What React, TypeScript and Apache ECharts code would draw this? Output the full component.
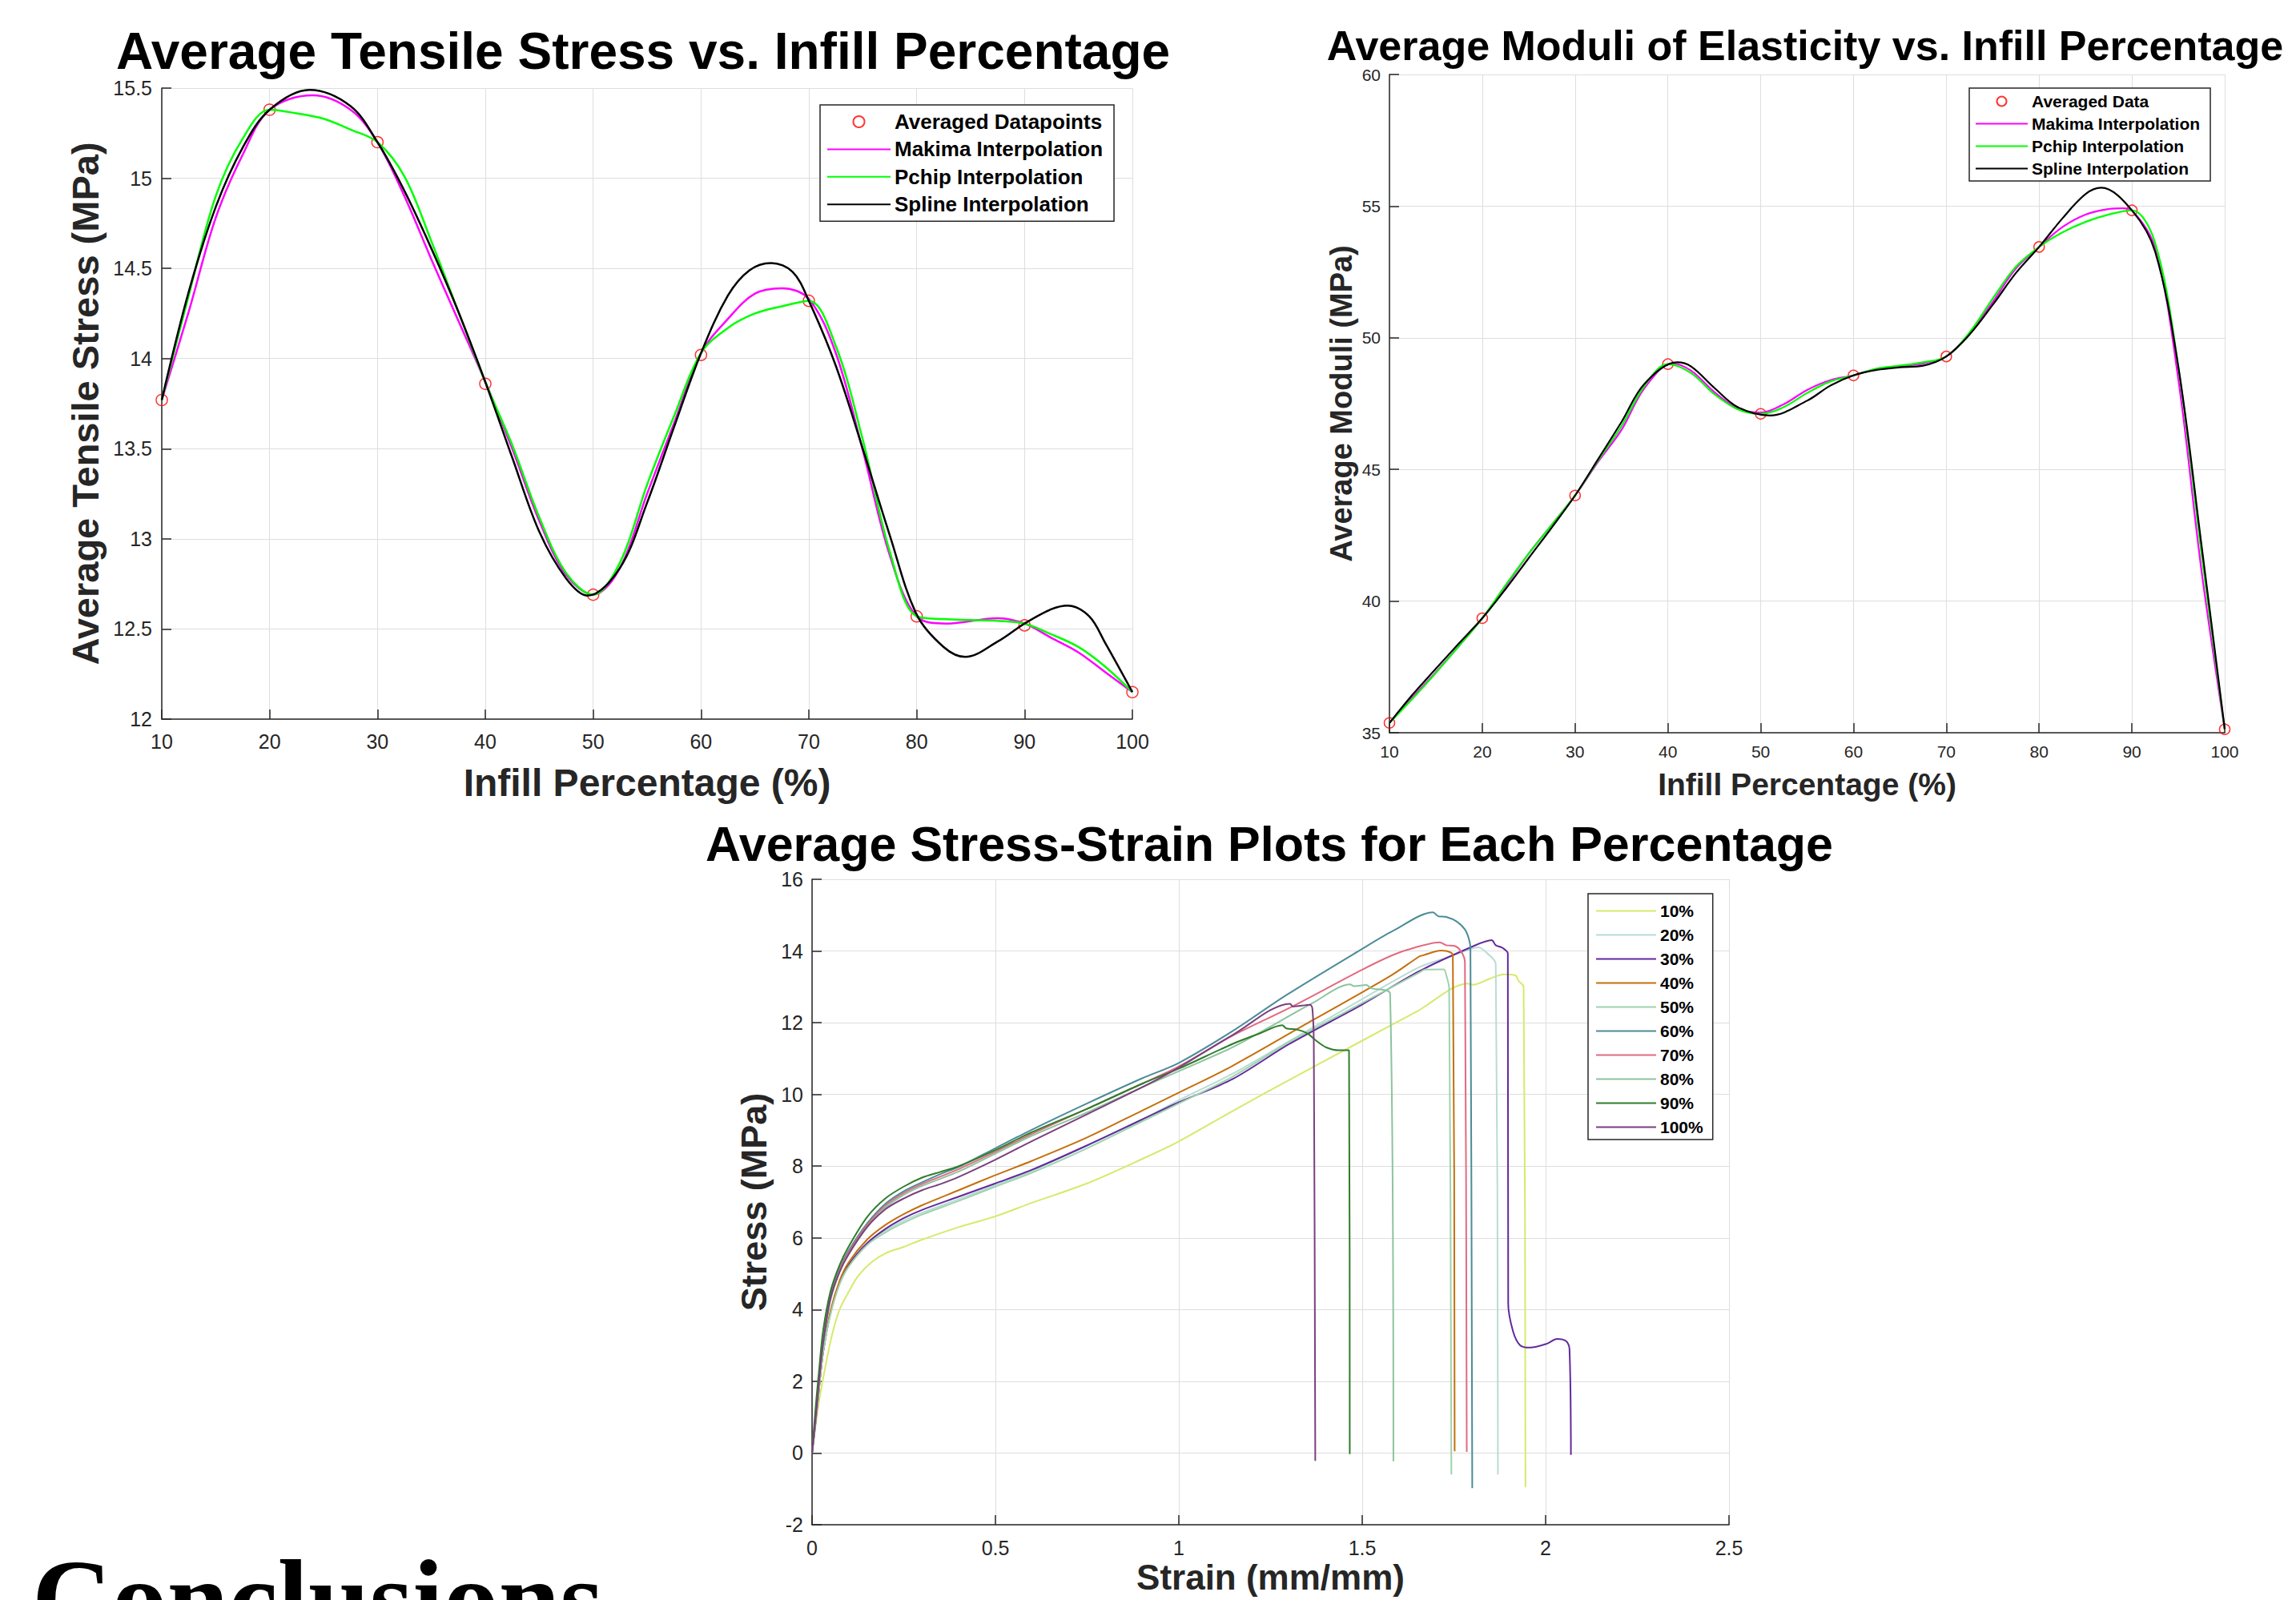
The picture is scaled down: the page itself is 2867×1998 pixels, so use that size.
import React, { useEffect, useRef } from 'react';
import * as echarts from 'echarts';

const FONT = '"Liberation Sans", Arial, Helvetica, sans-serif';
const AXIS = '#262626';
const GRID = '#dedede';

// ---------- Chart 1: Average Tensile Stress ----------
const infillX = [10, 20, 30, 40, 50, 60, 70, 80, 90, 100];
const tensileAvg = [13.77, 15.38, 15.2, 13.86, 12.69, 14.02, 14.32, 12.57, 12.52, 12.15];
const curveX = [10, 12.5, 15, 17.5, 20, 22.5, 25, 27.5, 30, 32.5, 35, 37.5, 40, 42.5, 45, 47.5, 50, 52.5, 55, 57.5, 60, 62.5, 65, 67.5, 70, 72.5, 75, 77.5, 80, 82.5, 85, 87.5, 90, 92.5, 95, 97.5, 100];

const tensileMakimaX = [10, 12.5, 15, 17.5, 20, 24, 27.5, 30, 32.5, 35, 37.5, 40, 42.5, 45, 47.5, 50, 52.5, 55, 57.5, 60, 62.5, 65, 67.5, 70, 72.5, 75, 77.5, 80, 82.8, 87.5, 90, 92.5, 95, 97.5, 100];
const tensileMakima = [13.77, 14.26, 14.78, 15.13, 15.38, 15.46, 15.38, 15.2, 14.9, 14.55, 14.21, 13.87, 13.5, 13.1, 12.8, 12.69, 12.84, 13.25, 13.64, 14.03, 14.22, 14.36, 14.39, 14.33, 14.03, 13.49, 12.91, 12.57, 12.53, 12.56, 12.53, 12.45, 12.37, 12.26, 12.15];
const tensilePchip = [13.77, 14.35, 14.9, 15.22, 15.38, 15.36, 15.33, 15.27, 15.2, 15.01, 14.65, 14.26, 13.87, 13.52, 13.12, 12.81, 12.69, 12.87, 13.3, 13.68, 14.03, 14.17, 14.25, 14.29, 14.32, 14.07, 13.55, 12.93, 12.57, 12.555, 12.55, 12.545, 12.53, 12.47, 12.4, 12.29, 12.15];
const tensileSplineX = [10, 12.5, 15, 17.5, 20, 23.7, 27.5, 30, 32.5, 35, 37.5, 40, 42.5, 45, 47.5, 49.5, 52.5, 55, 57.5, 60, 62.5, 64.5, 66.5, 68.5, 70, 72.5, 75, 77.5, 80, 82.5, 84.5, 87.5, 90, 92.5, 94, 96, 97.5, 100];
const tensileSpline = [13.77, 14.37, 14.84, 15.17, 15.38, 15.49, 15.4, 15.2, 14.93, 14.61, 14.26, 13.87, 13.45, 13.04, 12.78, 12.685, 12.84, 13.2, 13.62, 14.03, 14.35, 14.49, 14.53, 14.48, 14.32, 13.96, 13.5, 13.02, 12.58, 12.4, 12.345, 12.43, 12.53, 12.61, 12.63, 12.57, 12.42, 12.15];

// ---------- Chart 2: Average Moduli ----------
const modulusAvg = [35.37, 39.35, 44.01, 49.0, 47.11, 48.57, 49.29, 53.45, 54.84, 35.13];
const modulusMakimaX = [10, 12.5, 15, 17.5, 20, 22.5, 25, 27.5, 30, 32.5, 35, 37.5, 40.5, 42.5, 45, 47.5, 50, 52.5, 55, 57.5, 60, 62.5, 65, 67.5, 70, 72.5, 75, 77.5, 80, 82.5, 85, 87.5, 89, 90, 92.5, 95, 97.5, 100];
const modulusMakima = [35.37, 36.35, 37.3, 38.3, 39.35, 40.55, 41.8, 42.9, 44.01, 45.3, 46.5, 48.1, 49.02, 48.75, 47.94, 47.32, 47.16, 47.48, 48.02, 48.39, 48.57, 48.82, 48.92, 49.02, 49.29, 50.17, 51.36, 52.63, 53.45, 54.2, 54.68, 54.89, 54.92, 54.84, 53.4, 48.42, 41.15, 35.13];
const modulusPchip = [35.37, 36.3, 37.27, 38.3, 39.35, 40.6, 41.8, 42.9, 44.01, 45.35, 46.64, 48.18, 49.0, 48.66, 47.86, 47.29, 47.11, 47.37, 47.9, 48.34, 48.57, 48.83, 48.94, 49.07, 49.29, 50.2, 51.49, 52.7, 53.45, 54.0, 54.4, 54.68, 54.84, 53.6, 48.9, 41.8, 35.13];
const modulusSplineX = [10, 12.5, 15, 17.5, 20, 22.5, 25, 27.5, 30, 32.5, 35, 37.5, 41, 42.5, 45, 47.5, 51, 55, 57.5, 60, 62.5, 65, 67.5, 70, 72.5, 75, 77.5, 80, 82.5, 85, 86.7, 90, 92.5, 95, 97.5, 100];
const modulusSpline = [35.37, 36.45, 37.43, 38.4, 39.35, 40.45, 41.63, 42.8, 44.01, 45.4, 46.8, 48.26, 49.07, 48.91, 48.1, 47.37, 47.05, 47.61, 48.18, 48.57, 48.78, 48.88, 48.94, 49.29, 50.12, 51.25, 52.46, 53.45, 54.53, 55.46, 55.7, 54.84, 53.27, 48.9, 42.12, 35.13];

// ---------- Chart 3: Stress-strain ----------
const percentLabels = ['10%', '20%', '30%', '40%', '50%', '60%', '70%', '80%', '90%', '100%'];
const percentColors = ['#d7e96b', '#b8dcd4', '#62299c', '#c4700e', '#9fd3ae', '#4b8c98', '#e26a80', '#8cc49e', '#2e7d2a', '#7b3f7f'];
const ss10 = [[0, 0], [0.01, 0.8], [0.02, 1.5], [0.031, 2.12], [0.053, 3.23], [0.075, 4.0], [0.104, 4.57], [0.126, 4.94], [0.162, 5.32], [0.2, 5.57], [0.25, 5.75], [0.3, 5.95], [0.4, 6.3], [0.5, 6.6], [0.6, 6.98], [0.75, 7.52], [0.9, 8.2], [1.0, 8.69], [1.147, 9.54], [1.3, 10.4], [1.5, 11.5], [1.65, 12.32], [1.787, 13.09], [1.802, 13.06], [1.846, 13.22], [1.886, 13.35], [1.918, 13.32], [1.926, 13.17], [1.94, 13.0], [1.945, -0.95]];
const ss20 = [[0, 0], [0.01, 0.9], [0.02, 1.9], [0.03, 2.8], [0.05, 3.9], [0.075, 4.75], [0.1, 5.25], [0.15, 5.85], [0.2, 6.2], [0.25, 6.48], [0.3, 6.7], [0.4, 7.08], [0.5, 7.47], [0.6, 7.87], [0.75, 8.57], [0.9, 9.3], [1.0, 9.84], [1.147, 10.58], [1.3, 11.48], [1.5, 12.66], [1.656, 13.55], [1.729, 13.81], [1.802, 14.07], [1.817, 14.1], [1.838, 13.96], [1.864, 13.64], [1.87, -0.6]];
const ss30 = [[0, 0], [0.01, 0.9], [0.02, 1.9], [0.03, 2.8], [0.05, 3.9], [0.075, 4.75], [0.1, 5.25], [0.15, 5.85], [0.2, 6.25], [0.25, 6.55], [0.3, 6.78], [0.4, 7.15], [0.5, 7.52], [0.6, 7.9], [0.75, 8.58], [0.9, 9.3], [1.0, 9.78], [1.147, 10.43], [1.3, 11.4], [1.5, 12.51], [1.656, 13.44], [1.802, 14.13], [1.853, 14.3], [1.864, 14.16], [1.882, 14.09], [1.897, 13.93], [1.898, 4.17], [1.911, 3.4], [1.93, 3.01], [1.957, 2.94], [2.004, 3.05], [2.031, 3.18], [2.056, 3.12], [2.065, 2.91], [2.069, -0.05]];
const ss40 = [[0, 0], [0.01, 0.9], [0.02, 1.9], [0.03, 2.8], [0.05, 3.95], [0.075, 4.8], [0.1, 5.32], [0.15, 5.95], [0.2, 6.36], [0.25, 6.66], [0.3, 6.91], [0.4, 7.33], [0.5, 7.75], [0.6, 8.15], [0.75, 8.8], [0.9, 9.55], [1.0, 10.05], [1.147, 10.8], [1.365, 12.07], [1.5, 12.85], [1.584, 13.35], [1.656, 13.85], [1.663, 13.87], [1.715, 14.01], [1.729, 14.0], [1.747, 13.89], [1.752, 0.05]];
const ss50 = [[0, 0], [0.01, 0.9], [0.02, 1.9], [0.03, 2.8], [0.05, 3.85], [0.075, 4.7], [0.1, 5.2], [0.15, 5.8], [0.2, 6.15], [0.25, 6.42], [0.3, 6.65], [0.4, 7.03], [0.5, 7.43], [0.6, 7.82], [0.75, 8.5], [0.9, 9.25], [1.0, 9.75], [1.147, 10.5], [1.3, 11.45], [1.5, 12.55], [1.656, 13.4], [1.671, 13.48], [1.722, 13.49], [1.729, 13.33], [1.737, 12.96], [1.743, -0.6]];
const ss60 = [[0, 0], [0.01, 1.0], [0.02, 2.1], [0.03, 3.1], [0.05, 4.4], [0.075, 5.15], [0.1, 5.65], [0.15, 6.4], [0.2, 6.95], [0.25, 7.3], [0.3, 7.55], [0.35, 7.78], [0.4, 7.98], [0.5, 8.5], [0.6, 9.02], [0.75, 9.75], [0.9, 10.45], [1.0, 10.88], [1.147, 11.77], [1.293, 12.77], [1.5, 14.06], [1.584, 14.56], [1.693, 15.08], [1.707, 14.97], [1.729, 14.95], [1.758, 14.82], [1.78, 14.6], [1.791, 14.33], [1.795, 14.07], [1.8, -0.98]];
const ss70 = [[0, 0], [0.01, 1.0], [0.02, 2.1], [0.03, 3.05], [0.05, 4.3], [0.075, 5.1], [0.1, 5.6], [0.15, 6.35], [0.2, 6.9], [0.25, 7.25], [0.3, 7.5], [0.4, 7.92], [0.5, 8.4], [0.6, 8.9], [0.75, 9.6], [0.9, 10.3], [1.0, 10.78], [1.147, 11.64], [1.307, 12.44], [1.5, 13.48], [1.584, 13.89], [1.642, 14.09], [1.711, 14.24], [1.729, 14.16], [1.755, 14.13], [1.773, 13.93], [1.78, 13.7], [1.785, 0.03]];
const ss80 = [[0, 0], [0.01, 1.0], [0.02, 2.05], [0.03, 3.0], [0.05, 4.25], [0.075, 5.05], [0.1, 5.55], [0.15, 6.3], [0.2, 6.85], [0.25, 7.2], [0.3, 7.45], [0.4, 7.85], [0.5, 8.35], [0.6, 8.85], [0.75, 9.5], [0.9, 10.2], [1.0, 10.65], [1.147, 11.32], [1.365, 12.55], [1.467, 13.07], [1.478, 13.02], [1.511, 13.05], [1.525, 12.96], [1.576, 12.81], [1.585, -0.23]];
const ss90 = [[0, 0], [0.01, 1.3], [0.02, 2.4], [0.03, 3.4], [0.05, 4.5], [0.075, 5.24], [0.1, 5.76], [0.15, 6.58], [0.2, 7.1], [0.25, 7.43], [0.3, 7.68], [0.35, 7.84], [0.4, 8.0], [0.5, 8.45], [0.6, 8.95], [0.75, 9.6], [0.9, 10.3], [1.0, 10.72], [1.147, 11.41], [1.22, 11.7], [1.282, 11.93], [1.293, 11.84], [1.322, 11.81], [1.351, 11.7], [1.373, 11.51], [1.402, 11.31], [1.438, 11.23], [1.464, 11.23], [1.466, -0.03]];
const ss100 = [[0, 0], [0.01, 1.0], [0.02, 2.1], [0.03, 3.05], [0.05, 4.3], [0.075, 5.05], [0.1, 5.55], [0.15, 6.3], [0.2, 6.8], [0.25, 7.1], [0.3, 7.33], [0.35, 7.5], [0.4, 7.7], [0.5, 8.18], [0.6, 8.7], [0.75, 9.45], [0.9, 10.2], [1.0, 10.75], [1.147, 11.66], [1.303, 12.53], [1.311, 12.45], [1.358, 12.5], [1.364, 12.4], [1.368, 11.4], [1.372, -0.22]];
const stressStrain = [ss10, ss20, ss30, ss40, ss50, ss60, ss70, ss80, ss90, ss100];

function makeAxis(fontSize: number, margin: number, extra: any) {
  return {
    type: 'value',
    axisLine: { show: true, onZero: false, lineStyle: { color: AXIS, width: 1.5 } },
    axisTick: { show: true, inside: true, length: 12, lineStyle: { color: AXIS, width: 1.5 } },
    axisLabel: { color: AXIS, fontSize, fontFamily: FONT, margin, showMinLabel: true, showMaxLabel: true },
    splitLine: { show: true, lineStyle: { color: GRID, width: 1 } },
    nameLocation: 'middle',
    ...extra,
  };
}

function nameStyle(size: number) {
  return { color: AXIS, fontWeight: 'bold', fontFamily: FONT, fontSize: size, lineHeight: size };
}

function pairs(xs: number[], ys: number[]) {
  return xs.map((x, i) => [x, ys[i]]);
}

function titleText(text: string, x: number, y: number, size: number) {
  return {
    type: 'text',
    x,
    y,
    style: { text, fontSize: size, fontWeight: 'bold', fontFamily: FONT, fill: '#000', align: 'center', verticalAlign: 'middle' },
  };
}

// legend entry for a plain line (hides the symbol ECharts adds in the middle)
function lineItem(name: string) {
  return { name, itemStyle: { opacity: 0, borderWidth: 0 } };
}

function buildOption() {
  const interpSeries = (name: string, xi: number, data: number[][], color: string, width: number) => ({
    type: 'line', name, xAxisIndex: xi, yAxisIndex: xi, data, symbol: 'none', smooth: 0.35,
    lineStyle: { color, width }, itemStyle: { color }, z: 3,
  });
  const pointSeries = (name: string, xi: number, data: number[][], size: number) => ({
    type: 'scatter', name, xAxisIndex: xi, yAxisIndex: xi, data, symbol: 'circle', symbolSize: size,
    itemStyle: { color: 'rgba(255,255,255,0)', borderColor: '#ff0000', borderWidth: 1.5 }, z: 2,
  });

  const series: any[] = [
    pointSeries('Averaged Datapoints', 0, pairs(infillX, tensileAvg), 14),
    interpSeries('Makima Interpolation', 0, pairs(tensileMakimaX, tensileMakima), '#ff00ff', 2.5),
    interpSeries('Pchip Interpolation', 0, pairs(curveX, tensilePchip), '#00ff00', 2.5),
    interpSeries('Spline Interpolation', 0, pairs(tensileSplineX, tensileSpline), '#000000', 2.5),
    pointSeries('Averaged Data', 1, pairs(infillX, modulusAvg), 13),
    interpSeries('Makima Interpolation', 1, pairs(modulusMakimaX, modulusMakima), '#ff00ff', 2.2),
    interpSeries('Pchip Interpolation', 1, pairs(curveX, modulusPchip), '#00ff00', 2.2),
    interpSeries('Spline Interpolation', 1, pairs(modulusSplineX, modulusSpline), '#000000', 2.2),
  ];
  stressStrain.forEach((d, i) => {
    series.push({
      type: 'line', name: percentLabels[i], xAxisIndex: 2, yAxisIndex: 2, data: d, symbol: 'none', smooth: 0.3,
      lineStyle: { color: percentColors[i], width: 2 }, itemStyle: { color: percentColors[i] }, z: 3,
    });
  });

  const legendText = (size: number) => ({ fontSize: size, fontWeight: 'bold', color: '#000', fontFamily: FONT });

  return {
    animation: false,
    backgroundColor: '#ffffff',
    grid: [
      { left: 202, top: 110, width: 1212, height: 788, outerBoundsMode: 'none', containLabel: false },
      { left: 1735, top: 93, width: 1043, height: 822, outerBoundsMode: 'none', containLabel: false },
      { left: 1014, top: 1098, width: 1145, height: 806, outerBoundsMode: 'none', containLabel: false },
    ],
    xAxis: [
      makeAxis(25, 15, { gridIndex: 0, min: 10, max: 100, interval: 10, name: 'Infill Percentage (%)', nameGap: 55, nameTextStyle: nameStyle(48) }),
      makeAxis(21, 13, { gridIndex: 1, min: 10, max: 100, interval: 10, name: 'Infill Percentage (%)', nameGap: 45, nameTextStyle: nameStyle(39) }),
      makeAxis(25, 16, { gridIndex: 2, min: 0, max: 2.5, interval: 0.5, name: 'Strain (mm/mm)', nameGap: 43, nameTextStyle: nameStyle(44) }),
    ],
    yAxis: [
      makeAxis(25, 12, { gridIndex: 0, min: 12, max: 15.5, interval: 0.5, name: 'Average Tensile Stress (MPa)', nameGap: 72, nameTextStyle: nameStyle(47) }),
      makeAxis(21, 11, { gridIndex: 1, min: 35, max: 60, interval: 5, name: 'Average Moduli (MPa)', nameGap: 41, nameTextStyle: nameStyle(38) }),
      makeAxis(25, 11, { gridIndex: 2, min: -2, max: 16, interval: 2, name: 'Stress (MPa)', nameGap: 50, nameTextStyle: nameStyle(45) }),
    ],
    legend: [
      {
        left: 1024, top: 131, orient: 'vertical', padding: [8, 14, 8, 8], itemWidth: 79, itemHeight: 14, itemGap: 8.4,
        textStyle: legendText(26), backgroundColor: '#fff', borderColor: AXIS, borderWidth: 1.5, selectedMode: false,
        data: ['Averaged Datapoints', lineItem('Makima Interpolation'), lineItem('Pchip Interpolation'), lineItem('Spline Interpolation')],
      },
      {
        left: 2459, top: 110, orient: 'vertical', padding: [6, 13, 5, 7], itemWidth: 65, itemHeight: 12, itemGap: 7,
        textStyle: legendText(21), backgroundColor: '#fff', borderColor: AXIS, borderWidth: 1.5, selectedMode: false,
        data: ['Averaged Data', lineItem('Makima Interpolation'), lineItem('Pchip Interpolation'), lineItem('Spline Interpolation')],
      },
      {
        left: 1983, top: 1116, orient: 'vertical', padding: [11, 12, 5, 9], itemWidth: 75, itemHeight: 12, itemGap: 9,
        textStyle: legendText(21), backgroundColor: '#fff', borderColor: AXIS, borderWidth: 1.5, selectedMode: false,
        data: percentLabels.map(lineItem),
      },
    ],
    graphic: [
      titleText('Average Tensile Stress vs. Infill Percentage', 803, 64, 64),
      titleText('Average Moduli of Elasticity vs. Infill Percentage', 2254, 57, 52),
      titleText('Average Stress-Strain Plots for Each Percentage', 1585, 1054, 61),
      {
        type: 'text', x: 40, y: 1996,
        style: { text: 'Conclusions', fontSize: 138, fontWeight: 'bold', fontFamily: '"Liberation Serif", "Times New Roman", serif', fill: '#000', align: 'left', verticalAlign: 'middle' },
      },
    ],
    series,
  };
}

export default function App() {
  const ref = useRef<HTMLDivElement>(null);
  useEffect(() => {
    if (!ref.current) return;
    const chart = echarts.init(ref.current, undefined, { renderer: 'svg' });
    chart.setOption(buildOption() as any);
    return () => chart.dispose();
  }, []);
  return (
    <div
      ref={ref}
      style={{ position: 'absolute', left: 0, top: 0, width: 2867, height: 1998, background: '#fff', overflow: 'hidden' }}
    />
  );
}
